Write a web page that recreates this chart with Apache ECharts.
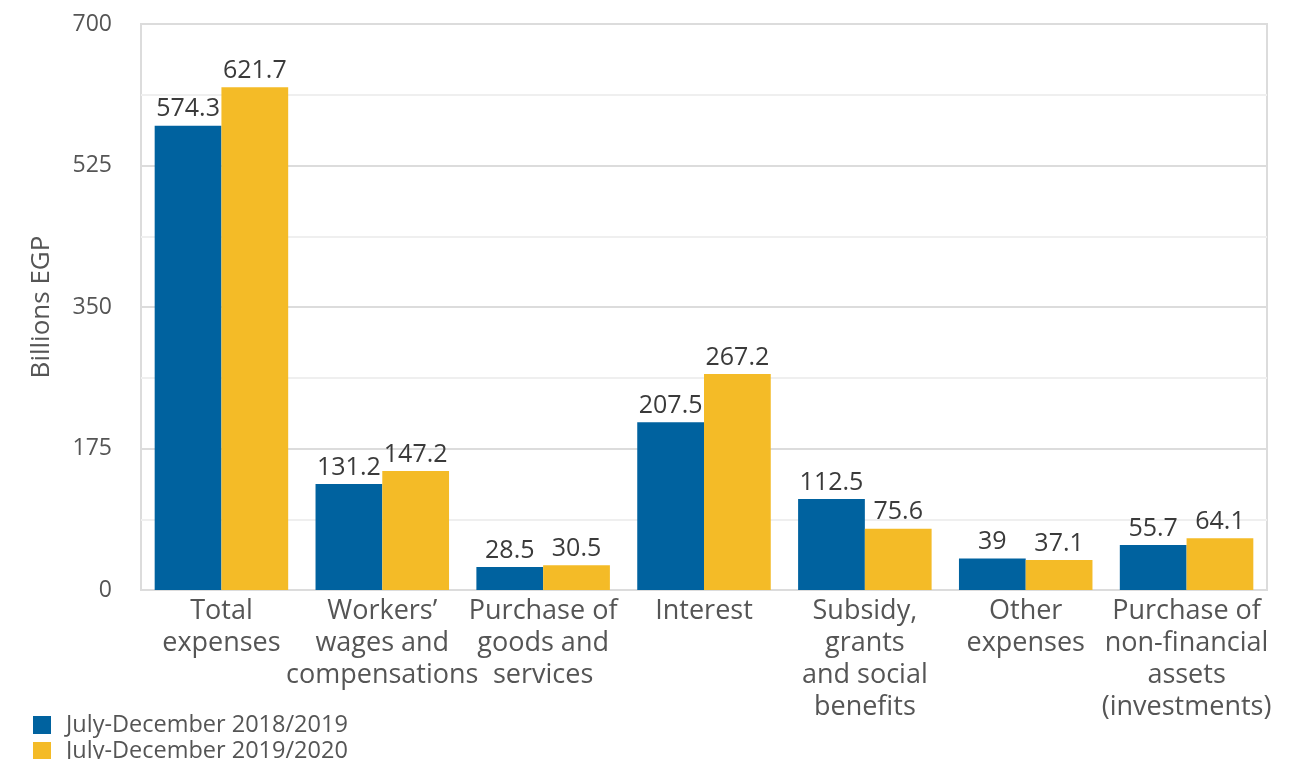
<!DOCTYPE html>
<html><head><meta charset="utf-8">
<script src="https://cdn.jsdelivr.net/npm/echarts@6/dist/echarts.min.js"></script>
<style>html,body{margin:0;padding:0;background:#fff}#c{width:1307px;height:759px}</style>
</head><body><div id="c"></div>
<script>
const categories = ["Total\nexpenses", "Workers’\nwages and\ncompensations", "Purchase of\ngoods and\nservices", "Interest", "Subsidy,\ngrants\nand social\nbenefits", "Other\nexpenses", "Purchase of\nnon-financial\nassets\n(investments)"];
const seriesNames = ["July-December 2018/2019", "July-December 2019/2020"];
const values2018 = [574.3, 131.2, 28.5, 207.5, 112.5, 39, 55.7];
const values2019 = [621.7, 147.2, 30.5, 267.2, 75.6, 37.1, 64.1];
const yTicks = [0, 175, 350, 525, 700];

const font = '"Open Sans", Roboto, sans-serif';
const chart = echarts.init(document.getElementById('c'));
const label = {show: true, position: 'top', fontSize: 25, color: '#3a3a3a', fontFamily: font, distance: 4};
chart.setOption({
  animation: false,
  textStyle: {fontFamily: font},
  grid: {left: 141, right: 40, top: 24, bottom: 169, show: true, borderColor: '#dcdcdc', borderWidth: 2},
  legend: {
    orient: 'vertical', left: 28, top: 708, height: 60, itemWidth: 18, itemHeight: 18, itemGap: 2,
    icon: 'rect',
    textStyle: {fontSize: 23.5, color: '#555', fontFamily: font, padding: [0, 0, 0, 10]},
    data: seriesNames
  },
  xAxis: {
    type: 'category', data: categories,
    axisLine: {show: true, lineStyle: {color: '#dcdcdc', width: 2}},
    axisTick: {show: false},
    axisLabel: {interval: 0, fontSize: 27, color: '#555', lineHeight: 32, margin: 5, fontFamily: font}
  },
  yAxis: {
    type: 'value', min: yTicks[0], max: yTicks[yTicks.length - 1], interval: 175,
    name: 'Billions EGP', nameLocation: 'middle', nameGap: 86, nameRotate: 90,
    nameTextStyle: {fontSize: 26, color: '#555', fontFamily: font},
    axisLine: {show: false}, axisTick: {show: false},
    axisLabel: {fontSize: 23, color: '#555', margin: 29, fontFamily: font},
    splitLine: {lineStyle: {color: '#dcdcdc', width: 2}},
    minorTick: {show: false, splitNumber: 2},
    minorSplitLine: {show: true, lineStyle: {color: '#efefef', width: 2}}
  },
  series: [
    {name: seriesNames[0], type: 'bar', data: values2018, barGap: '0%', barCategoryGap: '17%',
     itemStyle: {color: '#00629f'}, label: label},
    {name: seriesNames[1], type: 'bar', data: values2019, barGap: '0%', barCategoryGap: '17%',
     itemStyle: {color: '#f4bb27'}, label: label}
  ]
});
</script></body></html>
